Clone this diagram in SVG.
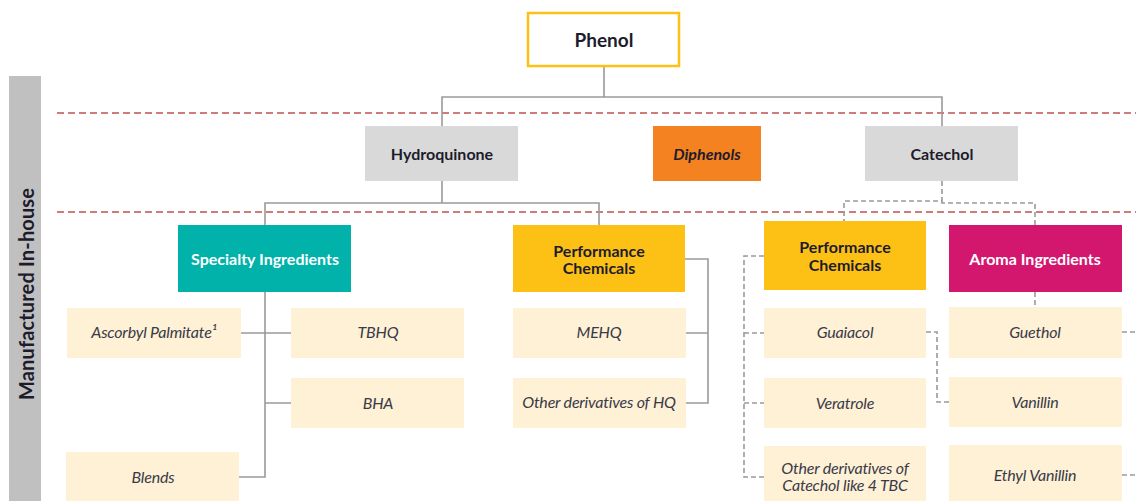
<svg xmlns="http://www.w3.org/2000/svg" width="1136" height="501" viewBox="0 0 1136 501">
<style>
.b{font-family:Lato,"Noto Sans",sans-serif;font-weight:bold;font-size:16px;fill:#1c1c2c;text-anchor:middle;dominant-baseline:central}
.w{fill:#ffffff}
.i{font-family:Lato,"Noto Sans",sans-serif;font-style:italic;font-size:16px;fill:#3a3a48;text-anchor:middle;dominant-baseline:central;letter-spacing:-0.2px}
.leaf{fill:#fef1d6}
.grey{fill:#d9d9d9}
.sol{fill:none;stroke:#9a9a9a;stroke-width:1.6}
.dsh{fill:none;stroke:#9a9a9a;stroke-width:1.6;stroke-dasharray:5 3}
.red{fill:none;stroke:#c0504d;stroke-width:1.3;stroke-dasharray:7 4}
</style>
<rect width="1136" height="501" fill="#ffffff"/>
<g id="band">
<rect x="9" y="76" width="32" height="425" fill="#c0c0c0"/>
<text class="b" x="26" y="294" style="font-size:20px" textLength="212" lengthAdjust="spacing" transform="rotate(-90 26 294)">Manufactured In-house</text>
<line class="red" x1="57" y1="113" x2="1136" y2="113"/>
<line class="red" x1="57" y1="212" x2="1136" y2="212"/>
</g>
<g id="connectors">
<path class="sol" d="M604 67V97M442 126V97H942V126"/>
<path class="sol" d="M442 181V203M265 225V203H599V225"/>
<path class="sol" d="M265 292V477H239M241 333H291M265 403H291"/>
<path class="sol" d="M685 259H708V403H686M686 333H708"/>
<path class="dsh" d="M942 181V201H844V221M942 201V203H1035V225"/>
<path class="dsh" d="M764 256H744V477H764M744 333H764M744 403H764"/>
<path class="dsh" d="M926 332H937V402H949"/>
<path class="dsh" d="M1035 292V308"/>
<path class="dsh" d="M1122 332H1136M1122 475H1136"/>
</g>
<g id="phenol"><rect x="528" y="13" width="151" height="53" fill="#ffffff" stroke="#fdc015" stroke-width="2.5"/><text class="b" x="604" y="39" style="font-size:19px">Phenol</text></g>
<g id="hydroquinone"><rect class="grey" x="365" y="126" width="153" height="55"/><text class="b" x="442" y="153">Hydroquinone</text></g>
<g id="diphenols"><rect x="653" y="126" width="108" height="55" fill="#f58220"/><text class="b" x="707" y="153" font-style="italic">Diphenols</text></g>
<g id="catechol"><rect class="grey" x="865" y="126" width="153" height="55"/><text class="b" x="942" y="153">Catechol</text></g>
<g id="specialty"><rect x="178" y="225" width="173" height="67" fill="#00b2a9"/><text class="b w" x="265" y="258">Specialty Ingredients</text></g>
<g id="perf-hq"><rect x="513" y="225" width="172" height="67" fill="#fdc015"/><text class="b" x="599" y="250">Performance</text><text class="b" x="599" y="267">Chemicals</text></g>
<g id="perf-cat"><rect x="764" y="221" width="162" height="69" fill="#fdc015"/><text class="b" x="845" y="246">Performance</text><text class="b" x="845" y="264">Chemicals</text></g>
<g id="aroma"><rect x="949" y="225" width="173" height="67" fill="#d3176f"/><text class="b w" x="1035" y="258">Aroma Ingredients</text></g>
<g id="ascorbyl"><rect class="leaf" x="67" y="308" width="174" height="50"/><text class="i" x="154" y="331">Ascorbyl Palmitate¹</text></g>
<g id="tbhq"><rect class="leaf" x="291" y="308" width="173" height="50"/><text class="i" x="378" y="331">TBHQ</text></g>
<g id="bha"><rect class="leaf" x="291" y="378" width="173" height="50"/><text class="i" x="378" y="402">BHA</text></g>
<g id="blends"><rect class="leaf" x="66" y="452" width="173" height="49"/><text class="i" x="153" y="476">Blends</text></g>
<g id="mehq"><rect class="leaf" x="513" y="308" width="173" height="50"/><text class="i" x="599" y="331">MEHQ</text></g>
<g id="other-hq"><rect class="leaf" x="513" y="378" width="173" height="50"/><text class="i" x="599" y="401">Other derivatives of HQ</text></g>
<g id="guaiacol"><rect class="leaf" x="764" y="308" width="162" height="50"/><text class="i" x="845" y="331">Guaiacol</text></g>
<g id="veratrole"><rect class="leaf" x="764" y="378" width="162" height="50"/><text class="i" x="845" y="402">Veratrole</text></g>
<g id="other-cat"><rect class="leaf" x="764" y="446" width="162" height="55"/><text class="i" x="845" y="467">Other derivatives of</text><text class="i" x="845" y="484">Catechol like 4 TBC</text></g>
<g id="guethol"><rect class="leaf" x="949" y="307" width="173" height="51"/><text class="i" x="1035" y="331">Guethol</text></g>
<g id="vanillin"><rect class="leaf" x="949" y="377" width="173" height="50"/><text class="i" x="1035" y="401">Vanillin</text></g>
<g id="ethyl-vanillin"><rect class="leaf" x="949" y="445" width="173" height="56"/><text class="i" x="1035" y="474">Ethyl Vanillin</text></g>
</svg>
